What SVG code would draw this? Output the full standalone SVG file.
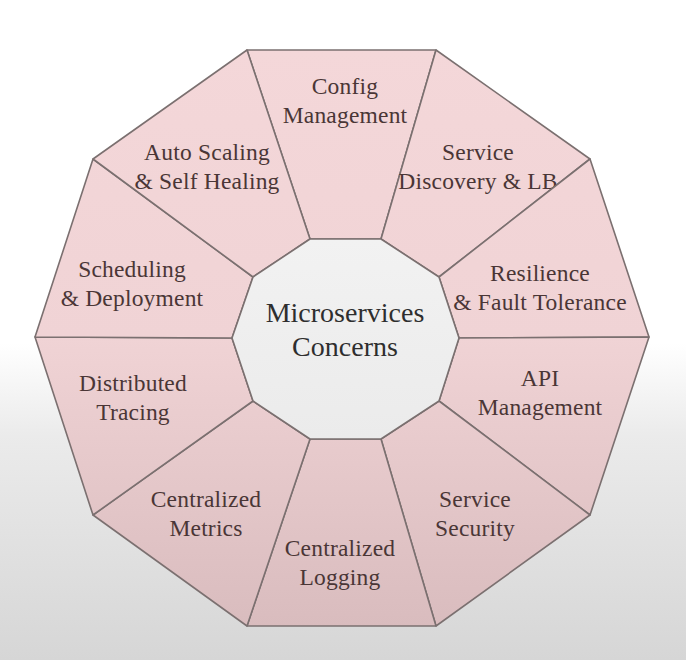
<svg xmlns="http://www.w3.org/2000/svg" width="686" height="660" viewBox="0 0 686 660">
<defs>
<linearGradient id="bg" x1="0" y1="0" x2="0" y2="660" gradientUnits="userSpaceOnUse">
<stop offset="0" stop-color="#ffffff"/>
<stop offset="0.52" stop-color="#ffffff"/>
<stop offset="0.66" stop-color="#ebebeb"/>
<stop offset="1" stop-color="#d6d6d6"/>
</linearGradient>
<linearGradient id="pink" x1="0" y1="50" x2="0" y2="626" gradientUnits="userSpaceOnUse">
<stop offset="0" stop-color="#f4d7d9"/>
<stop offset="0.5" stop-color="#f0d3d5"/>
<stop offset="1" stop-color="#d9bcbe"/>
</linearGradient>
<linearGradient id="core" x1="0" y1="239" x2="0" y2="439" gradientUnits="userSpaceOnUse">
<stop offset="0" stop-color="#f2f2f2"/>
<stop offset="1" stop-color="#ebebeb"/>
</linearGradient>
</defs>
<style>
.seg{fill:url(#pink);stroke:#7b7070;stroke-width:1.6;stroke-linejoin:round}
.hub{fill:url(#core);stroke:#7b7070;stroke-width:1.6;stroke-linejoin:round}
.lbl{font-family:"Liberation Serif",serif;font-size:23.5px;letter-spacing:0.2px;fill:#4a3636;text-anchor:middle}
.ctr{font-family:"Liberation Serif",serif;font-size:28px;fill:#2e2e2e;text-anchor:middle}
</style>
<rect x="0" y="0" width="686" height="660" fill="url(#bg)"/>
<g id="config-management">
<polygon class="seg" points="247,50 436,50 381,239 310,239"/>
<text class="lbl" x="345" y="94">Config</text>
<text class="lbl" x="345" y="123">Management</text>
</g>
<g id="service-discovery">
<polygon class="seg" points="436,50 590,159 439,277 381,239"/>
<text class="lbl" x="478" y="160">Service</text>
<text class="lbl" x="478" y="189">Discovery &amp; LB</text>
</g>
<g id="resilience">
<polygon class="seg" points="590,159 649,337 459,338 439,277"/>
<text class="lbl" x="540" y="281">Resilience</text>
<text class="lbl" x="540" y="310">&amp; Fault Tolerance</text>
</g>
<g id="api-management">
<polygon class="seg" points="649,337 590,515 439,401 459,338"/>
<text class="lbl" x="540" y="386">API</text>
<text class="lbl" x="540" y="415">Management</text>
</g>
<g id="service-security">
<polygon class="seg" points="590,515 436,626 381,439 439,401"/>
<text class="lbl" x="475" y="507">Service</text>
<text class="lbl" x="475" y="536">Security</text>
</g>
<g id="centralized-logging">
<polygon class="seg" points="436,626 247,626 310,439 381,439"/>
<text class="lbl" x="340" y="556">Centralized</text>
<text class="lbl" x="340" y="585">Logging</text>
</g>
<g id="centralized-metrics">
<polygon class="seg" points="247,626 93,515 253,401 310,439"/>
<text class="lbl" x="206" y="507">Centralized</text>
<text class="lbl" x="206" y="536">Metrics</text>
</g>
<g id="distributed-tracing">
<polygon class="seg" points="93,515 35,337 232,338 253,401"/>
<text class="lbl" x="133" y="391">Distributed</text>
<text class="lbl" x="133" y="420">Tracing</text>
</g>
<g id="scheduling-deployment">
<polygon class="seg" points="35,337 93,159 253,277 232,338"/>
<text class="lbl" x="132" y="277">Scheduling</text>
<text class="lbl" x="132" y="306">&amp; Deployment</text>
</g>
<g id="auto-scaling">
<polygon class="seg" points="93,159 247,50 310,239 253,277"/>
<text class="lbl" x="207" y="160">Auto Scaling</text>
<text class="lbl" x="207" y="189">&amp; Self Healing</text>
</g>
<g id="microservices-concerns">
<polygon class="hub" points="310,239 381,239 439,277 459,338 439,401 381,439 310,439 253,401 232,338 253,277"/>
<text class="ctr" x="345" y="322">Microservices</text>
<text class="ctr" x="345" y="356">Concerns</text>
</g>
<g id="connectors"></g>
</svg>
